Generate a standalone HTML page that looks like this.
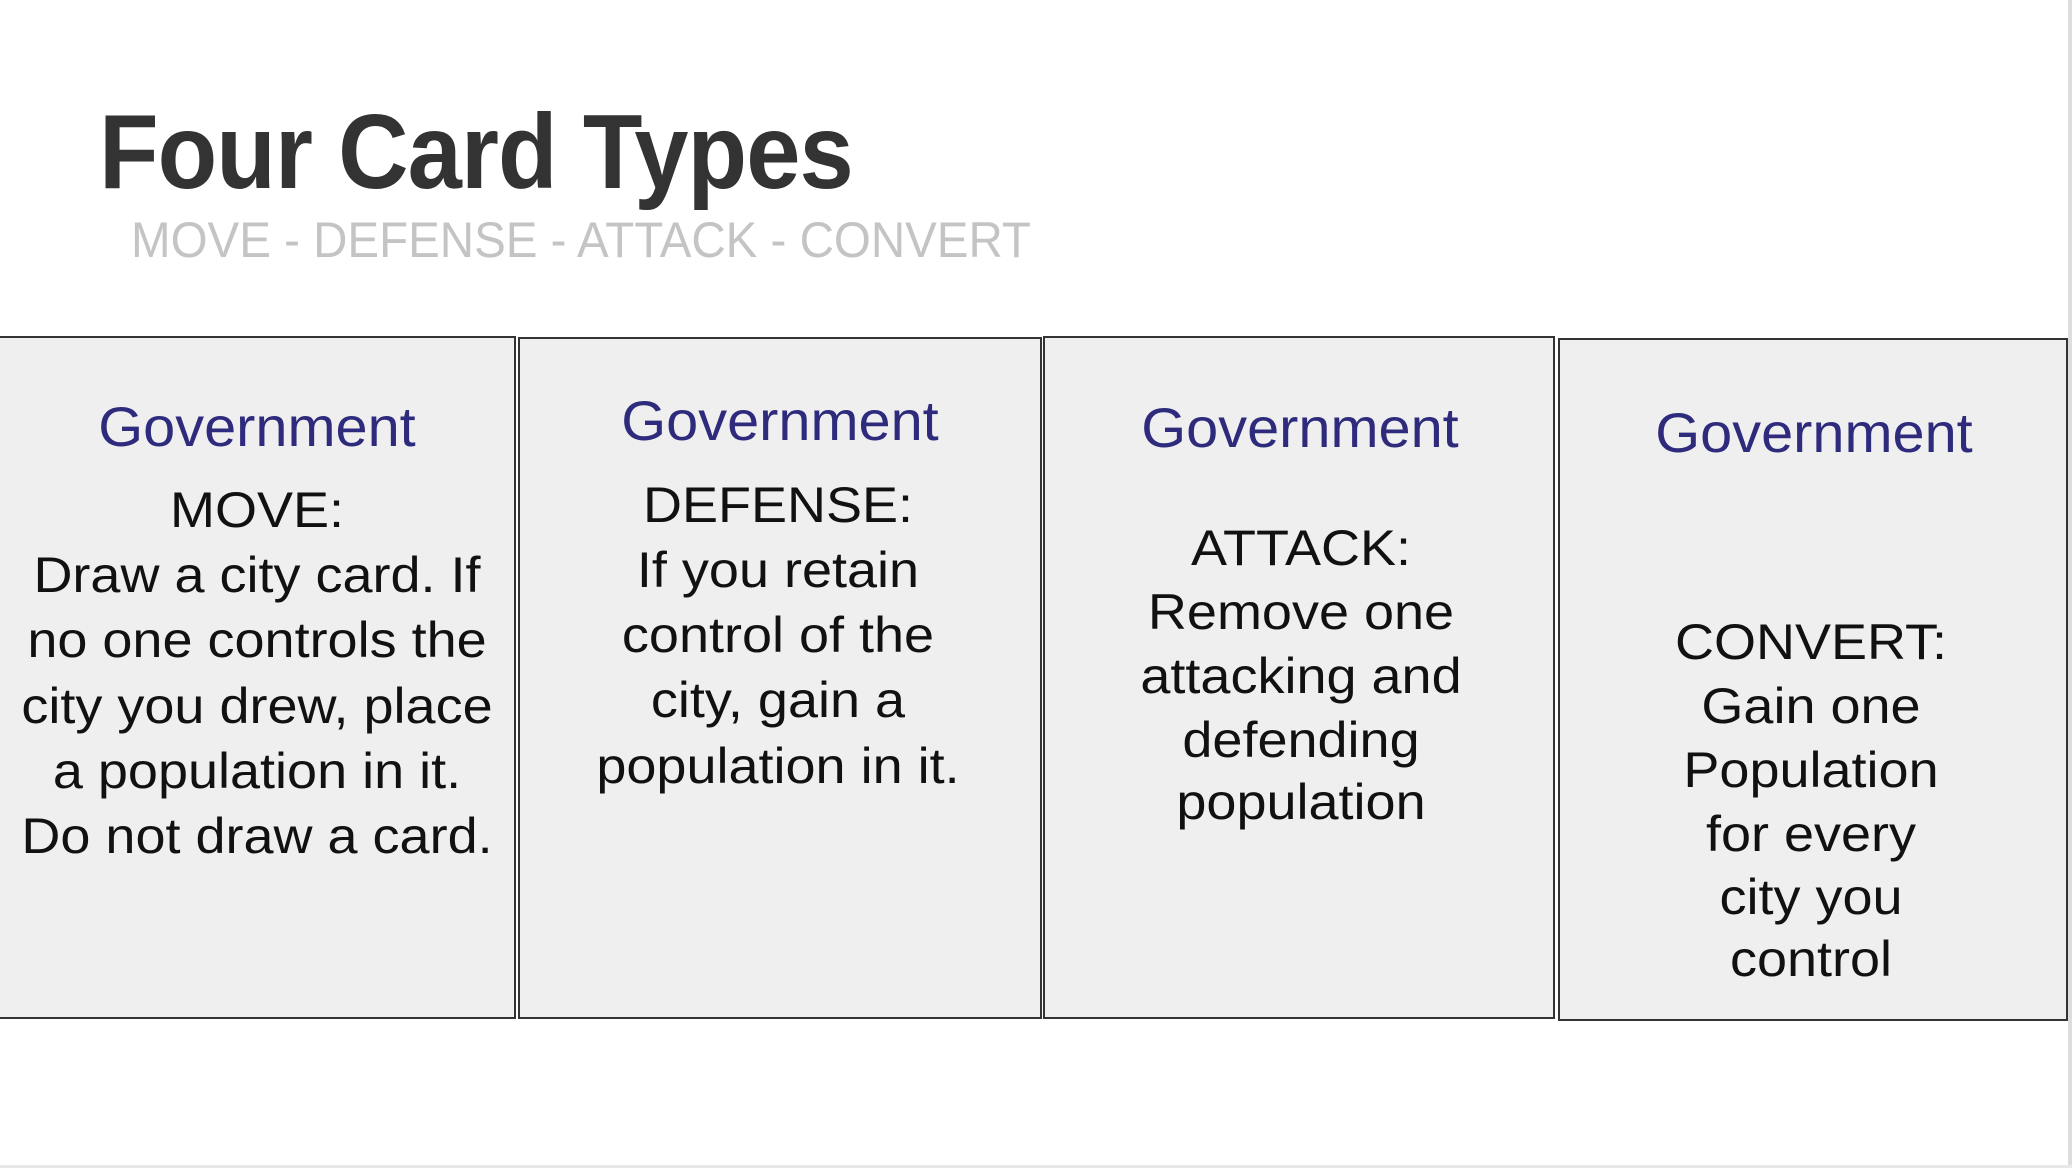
<!DOCTYPE html>
<html><head><meta charset="utf-8"><style>
body{margin:0;width:2072px;height:1168px;background:#fff;position:relative;overflow:hidden;font-family:"Liberation Sans",sans-serif;}
.t{position:absolute;left:99px;top:92px;font-size:106px;font-weight:bold;color:#333;letter-spacing:-1px;transform:scaleX(0.92);transform-origin:left center;white-space:nowrap;}
.s{position:absolute;left:131px;top:211px;font-size:50px;color:#c4c4c4;transform:scaleX(0.95);transform-origin:left center;white-space:nowrap;}
.c{position:absolute;background:#efefef;border:2px solid #333;box-sizing:border-box;}
.l{position:absolute;width:600px;text-align:center;font-size:50px;color:#111;line-height:1;transform:translate(-50%,-50%) scaleX(1.08);white-space:nowrap;}
.g{color:#2e2a7c;font-size:56px;transform:translate(-50%,-50%) scaleX(1.03);}
.edge{position:absolute;right:0;top:0;width:4px;height:1168px;background:#ddd;}
.bot{position:absolute;left:0;top:1165px;width:2072px;height:3px;background:#e8e8e8;}
</style></head><body>
<div class="t">Four Card Types</div>
<div class="s">MOVE - DEFENSE - ATTACK - CONVERT</div>
<div class="c" style="left:-2px;top:336px;width:518px;height:683px"></div>
<div class="c" style="left:518px;top:337px;width:524px;height:682px"></div>
<div class="c" style="left:1043px;top:336px;width:512px;height:683px"></div>
<div class="c" style="left:1558px;top:338px;width:510px;height:683px"></div>
<div class="edge"></div><div class="bot"></div>

<div class="l g" style="left:257px;top:427px">Government</div>
<div class="l" style="left:257px;top:510px">MOVE:</div>
<div class="l" style="left:257px;top:575px">Draw a city card. If</div>
<div class="l" style="left:257px;top:640px">no one controls the</div>
<div class="l" style="left:257px;top:706px">city you drew, place</div>
<div class="l" style="left:257px;top:771px">a population in it.</div>
<div class="l" style="left:257px;top:836px">Do not draw a card.</div>

<div class="l g" style="left:780px;top:421px">Government</div>
<div class="l" style="left:778px;top:505px">DEFENSE:</div>
<div class="l" style="left:778px;top:570px">If you retain</div>
<div class="l" style="left:778px;top:635px">control of the</div>
<div class="l" style="left:778px;top:700px">city, gain a</div>
<div class="l" style="left:778px;top:766px">population in it.</div>

<div class="l g" style="left:1300px;top:428px">Government</div>
<div class="l" style="left:1301px;top:548px">ATTACK:</div>
<div class="l" style="left:1301px;top:612px">Remove one</div>
<div class="l" style="left:1301px;top:676px">attacking and</div>
<div class="l" style="left:1301px;top:740px">defending</div>
<div class="l" style="left:1301px;top:802px">population</div>

<div class="l g" style="left:1814px;top:433px">Government</div>
<div class="l" style="left:1811px;top:642px">CONVERT:</div>
<div class="l" style="left:1811px;top:706px">Gain one</div>
<div class="l" style="left:1811px;top:770px">Population</div>
<div class="l" style="left:1811px;top:834px">for every</div>
<div class="l" style="left:1811px;top:897px">city you</div>
<div class="l" style="left:1811px;top:959px">control</div>
</body></html>
